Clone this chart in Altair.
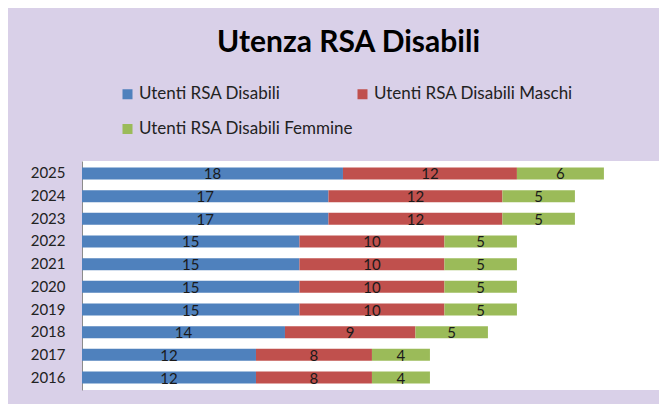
import altair as alt
import pandas as pd

years = ["2016", "2017", "2018", "2019", "2020", "2021", "2022", "2023", "2024", "2025"]
utenti = [12, 12, 14, 15, 15, 15, 15, 17, 17, 18]
maschi = [8, 8, 9, 10, 10, 10, 10, 12, 12, 12]
femmine = [4, 4, 5, 5, 5, 5, 5, 5, 5, 6]
series = ["Utenti RSA Disabili", "Utenti RSA Disabili Maschi", "Utenti RSA Disabili Femmine"]
colors = ["#4f81bd", "#c0504d", "#9bbb59"]

rows = []
for i, yr in enumerate(years):
    for k, (s, v) in enumerate(zip(series, [utenti[i], maschi[i], femmine[i]])):
        rows.append({"anno": yr, "serie": s, "valore": v, "ordine": k})
df = pd.DataFrame(rows)

FONT = "Lato"
XDOMAIN = [0, 39.8]

base = alt.Chart(df).transform_stack(
    stack="valore", groupby=["anno"], as_=["x0", "x1"], sort=[alt.SortField("ordine")]
).transform_calculate(xm="(datum.x0 + datum.x1) / 2")

y_enc = alt.Y(
    "anno:N", sort="descending", title=None,
    scale=alt.Scale(paddingInner=0.47, paddingOuter=0.285),
    axis=alt.Axis(domain=True, domainColor="#8c8c8c", ticks=False, labelPadding=17,
                  labelFontSize=15, labelColor="#222222", labelFont=FONT, grid=False),
)

bars = base.mark_bar().encode(
    x=alt.X("x0:Q", scale=alt.Scale(domain=XDOMAIN), axis=None),
    x2="x1:Q",
    y=y_enc,
    color=alt.Color(
        "serie:N", scale=alt.Scale(domain=series, range=colors),
        legend=alt.Legend(
            title=None, orient="none", legendX=37, legendY=-75.5, direction="horizontal",
            columns=2, symbolType="square", symbolSize=100, symbolStrokeWidth=0,
            labelFontSize=17, labelFont=FONT, labelColor="#222222", labelOffset=3,
            labelLimit=400, columnPadding=0, rowPadding=17,
        ),
    ),
    order=alt.Order("ordine:Q"),
)

labels = base.mark_text(fontSize=15, font=FONT, color="#1a1a1a", baseline="middle", dy=1).encode(
    x=alt.X("xm:Q", scale=alt.Scale(domain=XDOMAIN), axis=None),
    y=y_enc,
    text="valore:Q",
)

chart = alt.layer(bars, labels).properties(
    width=577,
    height=229,
    autosize=alt.AutoSizeParams(type="none"),
    padding={"left": 74, "top": 153, "right": 0, "bottom": 14},
    background="#d9d0e8",
    title=alt.TitleParams(
        "Utenza RSA Disabili", fontSize=30, fontWeight="bold", font=FONT, color="#000000",
        anchor="middle", dx=-22, offset=28,
    ),
).configure_view(fill="white", stroke=None)

chart.save("out.html", embed_options={"renderer": "svg", "actions": False})
